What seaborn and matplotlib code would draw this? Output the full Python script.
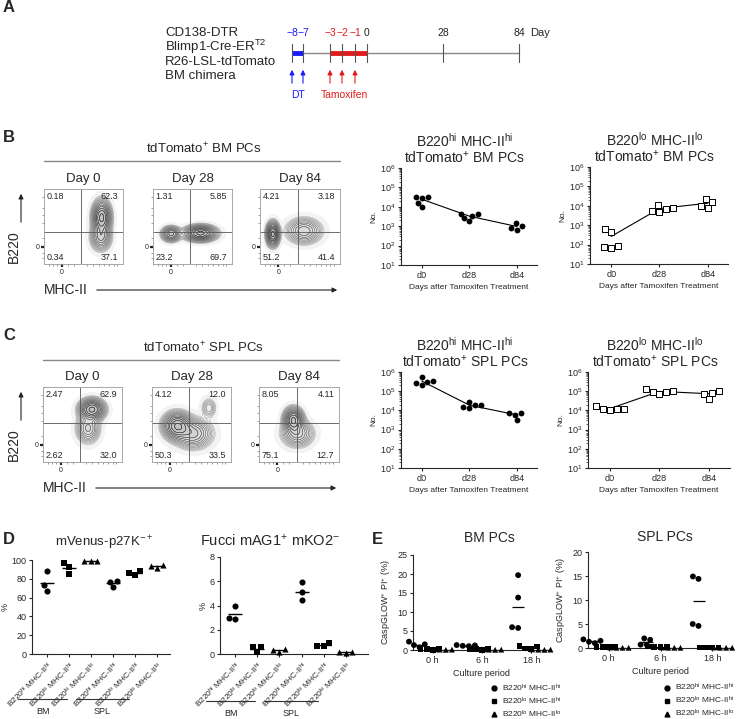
import numpy as np
import pandas as pd
import matplotlib
matplotlib.use("Agg")
import matplotlib.pyplot as plt
from matplotlib.lines import Line2D
import seaborn as sns

sns.set_style("ticks")
plt.rcParams["font.family"] = ["Liberation Sans", "DejaVu Sans"]
plt.rcParams["mathtext.fontset"] = "custom"
plt.rcParams["mathtext.rm"] = "Liberation Sans"
plt.rcParams["mathtext.it"] = "Liberation Sans:italic"
plt.rcParams["mathtext.bf"] = "Liberation Sans:bold"
plt.rcParams["axes.linewidth"] = 0.8
plt.rcParams["xtick.major.width"] = 0.8
plt.rcParams["ytick.major.width"] = 0.8
plt.rcParams["xtick.major.size"] = 2.5
plt.rcParams["ytick.major.size"] = 2.5
plt.rcParams["xtick.major.pad"] = 2
plt.rcParams["ytick.major.pad"] = 1.5


def sup(s):
    return r"$\mathregular{^{" + s + "}}$"


# ---------------- data ----------------
# panel A timeline
tl_days = ["\u22128", "\u22127", "\u22123", "\u22122", "\u22121", "0", "28", "84"]
tl_colors = ["#1a1aff", "#1a1aff", "#e31a1c", "#e31a1c", "#e31a1c", "#222222", "#222222", "#222222"]
genotype = ["CD138-DTR", "Blimp1-Cre-ER" + sup("T2"), "R26-LSL-tdTomato", "BM chimera"]

# panels B, C flow quadrants (UL, UR, LL, LR)
flow_days = ["Day 0", "Day 28", "Day 84"]
bm_quads = [["0.18", "62.3", "0.34", "37.1"],
            ["1.31", "5.85", "23.2", "69.7"],
            ["4.21", "3.18", "51.2", "41.4"]]
spl_quads = [["2.47", "62.9", "2.62", "32.0"],
             ["4.12", "12.0", "50.3", "33.5"],
             ["8.05", "4.11", "75.1", "12.7"]]
# population blobs: (x, y, sx, sy, weight), axis fractions
bm_blobs = [[(0.73, 0.62, 0.058, 0.11, 1.0), (0.72, 0.36, 0.065, 0.09, 0.45)],
            [(0.23, 0.40, 0.06, 0.05, 0.6), (0.60, 0.41, 0.10, 0.052, 1.0)],
            [(0.16, 0.40, 0.04, 0.08, 1.0), (0.55, 0.44, 0.11, 0.085, 0.4)]]
spl_blobs = [[(0.62, 0.70, 0.08, 0.07, 1.0), (0.57, 0.45, 0.075, 0.10, 0.35)],
             [(0.32, 0.48, 0.09, 0.09, 1.0), (0.52, 0.38, 0.12, 0.10, 0.5), (0.72, 0.72, 0.05, 0.07, 0.15)],
             [(0.43, 0.56, 0.06, 0.08, 1.0), (0.48, 0.38, 0.10, 0.09, 0.4)]]

# panels B, C: number of cells per mouse
days = ["d0", "d28", "d84"]
mouse_day = ["d0"] * 5 + ["d28"] * 5 + ["d84"] * 4
bm_hi_no = [3.3e4, 3.3e4, 1.6e4, 9.5e3, 3.0e4, 4.5e3, 1.8e3, 3.3e3, 4.3e3, 2.5e3, 1.0e3, 6.5e2, 1.4e3, 8.0e2]
bm_lo_no = [6.5e2, 6.5e1, 4.5e2, 8.5e1, 7.5e1, 5.0e3, 7.5e3, 1.1e4, 5.5e3, 7.0e3, 1.5e4, 8.0e3, 2.2e4, 9.5e3]
spl_hi_no = [3.5e5, 2.0e5, 5.5e5, 3.0e5, 2.7e5, 2.8e4, 1.3e4, 1.9e4, 1.5e4, 1.8e4, 7.5e3, 5.8e3, 3.0e3, 7.0e3]
spl_lo_no = [1.6e4, 1.0e4, 1.25e4, 1.15e4, 1.2e4, 1.3e5, 7.5e4, 1.0e5, 9.0e4, 9.5e4, 1.0e5, 7.0e4, 4.0e4, 8.5e4]

# panel D
d_groups = ["BM hh", "BM lh", "BM ll", "SPL hh", "SPL lh", "SPL ll"]
d_kind = ["hh", "lh", "ll", "hh", "lh", "ll"]
mvenus = [[88, 73, 67], [97, 93, 85], [98.5, 99, 98.5], [77, 71, 78], [88, 84, 86], [95, 92, 94]]
fucci = [[2.85, 3.95, 3.0], [0.6, 0.2, 0.55], [0.2, 0.45, 0.3], [5.9, 5.1, 4.45], [0.65, 0.9, 0.7], [0.12, 0.2, 0.15]]

# panel E
hours = ["0 h", "6 h", "18 h"]
cells = ["hh", "lh", "ll"]
bm_casp = {"hh": [[0.7, 1.3, 1.5, 2.2], [1.0, 1.1, 1.2, 1.3], [19.7, 13.8, 5.8, 6.0]],
           "lh": [[0.2, 0.3, 0.2, 0.1], [0.2, 0.1, 0.3, 0.2], [1.0, 0.3, 0.4, 0.9]],
           "ll": [[0.1, 0.05, 0.1, 0.15], [0.1, 0.05, 0.1, 0.1], [0.1, 0.05, 0.15, 0.1]]}
spl_casp = {"hh": [[1.8, 1.5, 1.3, 1.0], [1.7, 2.0, 0.7, 0.7], [14.4, 14.9, 4.6, 5.0]],
            "lh": [[0.2, 0.25, 0.2, 0.15], [0.2, 0.3, 0.15, 0.2], [0.1, 0.1, 0.1, 0.1]],
            "ll": [[0.05, 0.1, 0.05, 0.05], [0.05, 0.05, 0.1, 0.05], [0.05, 0.05, 0.1, 0.05]]}

cell_label = {"hh": "B220" + sup("hi") + " MHC-II" + sup("hi"),
              "lh": "B220" + sup("lo") + " MHC-II" + sup("hi"),
              "ll": "B220" + sup("lo") + " MHC-II" + sup("lo")}
cell_marker = {"hh": "o", "lh": "s", "ll": "^"}

# ---------------- figure ----------------
W, H = 741, 719
fig = plt.figure(figsize=(W / 100, H / 100), dpi=100)

ax0 = fig.add_axes([0, 0, 1, 1])
ax0.set_xlim(0, W)
ax0.set_ylim(H, 0)
ax0.axis("off")


def box(l, t, r, b):
    return fig.add_axes([l / W, 1 - b / H, (r - l) / W, (b - t) / H])


# panel letters
for lab, x, y in [("A", 3, 8), ("B", 3, 138), ("C", 3, 336), ("D", 3, 539), ("E", 372, 539)]:
    ax0.text(x, y, lab, fontsize=12, fontweight="bold", va="center", ha="left")

# ---------------- A ----------------
for i, s in enumerate(genotype):
    ax0.text(165, 33 + i * 14.3, s, fontsize=9.5, va="center", ha="left")
tl_x = [292, 303, 330, 342, 355, 367, 443, 519]
ax0.plot([292, 519], [53, 53], color="#888888", lw=1)
ax0.plot([292, 303], [53, 53], color="#1a1aff", lw=3.5, solid_capstyle="butt")
ax0.plot([330, 367], [53, 53], color="#e31a1c", lw=3.5, solid_capstyle="butt")
for x, s, c in zip(tl_x, tl_days, tl_colors):
    ax0.plot([x, x], [44, 62], color="#555555", lw=0.8)
    ax0.text(x, 33, s, fontsize=7.5, color=c, ha="center", va="center")
ax0.text(530, 33, "Day", fontsize=8, ha="left", va="center")
for x, c in zip(tl_x[:5], tl_colors[:5]):
    ax0.annotate("", xy=(x, 67), xytext=(x, 86),
                 arrowprops=dict(arrowstyle="-|>", color=c, lw=0.8, mutation_scale=7))
ax0.text(297.5, 95, "DT", fontsize=7.5, color="#1a1aff", ha="center", va="center")
ax0.text(344, 95, "Tamoxifen", fontsize=7.5, color="#e31a1c", ha="center", va="center")


# ---------------- B / C flow ----------------
def flow_panel(boxes, quads, blobs, hline_y, title, y_top, qy):
    g = np.linspace(0, 1, 240)
    X, Y = np.meshgrid(g, g)
    nlev = 14
    line_cols = plt.cm.Greys(np.linspace(0.42, 0.95, nlev))
    fill_cols = plt.cm.Greys(np.linspace(0.04, 0.6, nlev))
    for (l, t, r, b), q, bl, day in zip(boxes, quads, blobs, flow_days):
        ax = box(l, t, r, b)
        Z = np.zeros_like(X)
        for cx, cy, sx, sy, w in bl:
            Z += w * np.exp(-0.5 * (((X - cx) / sx) ** 2 + ((Y - cy) / sy) ** 2))
        top = Z.max()
        lev = top * np.geomspace(0.03, 0.9, nlev)
        ax.contourf(X, Y, Z, levels=[top * 0.006, top * 0.03], colors=["#f3f3f3"])
        ax.contourf(X, Y, Z, levels=list(lev) + [top * 1.01], colors=fill_cols, alpha=0.45)
        ax.contour(X, Y, Z, levels=lev, colors=line_cols, linewidths=0.4)
        ax.axvline(0.47, color="#555555", lw=0.6)
        ax.axhline(qy, color="#555555", lw=0.6)
        ax.set_xlim(0, 1)
        ax.set_ylim(0, 1)
        for sp in ax.spines.values():
            sp.set_color("#999999")
            sp.set_linewidth(0.6)
        ax.set_xticks([0.23])
        ax.set_xticklabels(["0"], fontsize=5)
        ax.set_yticks([0.23])
        ax.set_yticklabels(["0"], fontsize=5)
        ax.set_xticks([0.06, 0.12, 0.17, 0.3, 0.38, 0.55, 0.62, 0.7, 0.76, 0.82, 0.88, 0.93], minor=True)
        ax.set_yticks([0.08, 0.15, 0.35, 0.55, 0.65, 0.75, 0.9], minor=True)
        ax.tick_params(which="major", length=2, width=1.6, color="#222222", pad=1.5)
        ax.tick_params(which="minor", length=1.5, width=0.5, color="#777777")
        ax.set_title(day, fontsize=9.5, pad=5)
        ax.text(0.03, 0.96, q[0], fontsize=6.5, transform=ax.transAxes, ha="left", va="top")
        ax.text(0.94, 0.96, q[1], fontsize=6.5, transform=ax.transAxes, ha="right", va="top")
        ax.text(0.03, 0.03, q[2], fontsize=6.5, transform=ax.transAxes, ha="left", va="bottom")
        ax.text(0.94, 0.03, q[3], fontsize=6.5, transform=ax.transAxes, ha="right", va="bottom")
    l0, r0 = boxes[0][0], boxes[-1][2]
    ax0.text((l0 + r0) / 2 + 12, hline_y - 12, title, fontsize=9.5, ha="center", va="center")
    ax0.plot([l0, r0], [hline_y, hline_y], color="#888888", lw=1)
    # axis arrows
    ax0.text(14, y_top + 58, "B220", fontsize=10, rotation=90, ha="center", va="center")
    ax0.annotate("", xy=(21, y_top + 2), xytext=(21, y_top + 36),
                 arrowprops=dict(arrowstyle="-|>", color="#222222", lw=0.8, mutation_scale=7))
    ax0.text(l0, y_top + 101, "MHC-II", fontsize=10, ha="left", va="center")
    ax0.annotate("", xy=(r0, y_top + 101), xytext=(l0 + 50, y_top + 101),
                 arrowprops=dict(arrowstyle="-|>", color="#222222", lw=0.8, mutation_scale=7))


flow_panel([(44, 189, 123, 264), (153, 189, 232, 264), (260, 189, 340, 264)],
           bm_quads, bm_blobs, 161, "tdTomato" + sup("+") + " BM PCs", 189, 0.43)
flow_panel([(43, 387, 122, 462), (152, 387, 231, 462), (259, 387, 339, 462)],
           spl_quads, spl_blobs, 360, "tdTomato" + sup("+") + " SPL PCs", 387, 0.52)


# ---------------- B / C counts ----------------
def count_panel(ax, values, title, filled):
    df = pd.DataFrame({"day": mouse_day, "n": values})
    means = df.groupby("day", sort=False)["n"].mean().reset_index()
    if filled:
        sns.swarmplot(data=df, x="day", y="n", order=days, ax=ax, log_scale=True,
                      color="black", marker="o", size=4.2, linewidth=0)
    else:
        sns.swarmplot(data=df, x="day", y="n", order=days, ax=ax, log_scale=True,
                      color="white", marker="s", size=4.2, edgecolor="black", linewidth=0.7)
    sns.pointplot(data=means, x="day", y="n", order=days, ax=ax, log_scale=True,
                  color="black", markers="none", errorbar=None, linewidth=0.8)
    ax.set_ylim(10, 1e6)
    ax.set_xlim(-0.44, 2.42)
    ax.set_yticks([1e1, 1e2, 1e3, 1e4, 1e5, 1e6])
    ax.tick_params(axis="both", labelsize=6.5)
    ax.tick_params(which="minor", length=1.3, width=0.5)
    ax.set_xlabel("Days after Tamoxifen Treatment", fontsize=6, labelpad=3)
    ax.set_ylabel("No.", fontsize=6, labelpad=2)
    ax.set_title(title, fontsize=10, pad=4, linespacing=1.0, x=0.47)
    sns.despine(ax=ax)


count_panel(box(401, 168, 537, 265), bm_hi_no,
            "B220" + sup("hi") + " MHC-II" + sup("hi") + "\ntdTomato" + sup("+") + " BM PCs", True)
count_panel(box(590, 167, 728, 264), bm_lo_no,
            "B220" + sup("lo") + " MHC-II" + sup("lo") + "\ntdTomato" + sup("+") + " BM PCs", False)
count_panel(box(401, 372, 537, 468), spl_hi_no,
            "B220" + sup("hi") + " MHC-II" + sup("hi") + "\ntdTomato" + sup("+") + " SPL PCs", True)
count_panel(box(588, 372, 730, 468), spl_lo_no,
            "B220" + sup("lo") + " MHC-II" + sup("lo") + "\ntdTomato" + sup("+") + " SPL PCs", False)


# ---------------- D ----------------
def d_panel(ax, values, ylim, yticks, title, tsize, pad, tx, xmax):
    df = pd.DataFrame({"group": np.repeat(d_groups, 3),
                       "kind": np.repeat(d_kind, 3),
                       "pct": np.concatenate(values)})
    for k in cells:
        sns.swarmplot(data=df[df["kind"] == k], x="group", y="pct", order=d_groups, ax=ax,
                      color="black", marker=cell_marker[k], size=4.4, linewidth=0)
    sns.pointplot(data=df, x="group", y="pct", order=d_groups, ax=ax, color="black",
                  markers="_", linestyles="none", errorbar=None, markersize=10, markeredgewidth=1)
    for c in ax.collections:
        c.set_clip_on(False)
    ax.set_ylim(*ylim)
    ax.set_yticks(yticks)
    ax.set_xlim(-0.68, xmax)
    ax.set_xticks(range(6))
    ax.set_xticklabels([cell_label[k] for k in d_kind], rotation=45, ha="right",
                       rotation_mode="anchor", fontsize=6)
    ax.tick_params(axis="y", labelsize=6.5)
    ax.set_xlabel("")
    ax.set_ylabel("%", fontsize=6.5, labelpad=1)
    ax.set_title(title, fontsize=tsize, pad=pad, x=tx)
    sns.despine(ax=ax)
    tr = ax.get_xaxis_transform()
    for (x0, x1), name in [((-1.3, 0.92), "BM"), ((1.3, 3.75), "SPL")]:
        ax.plot([x0, x1], [-0.48, -0.48], color="#333333", lw=0.8, transform=tr, clip_on=False)
        ax.text((x0 + x1) / 2, -0.61, name, fontsize=6.5, ha="center", va="center", transform=tr)


d_panel(box(32, 560, 170, 654), mvenus, (0, 100), [0, 20, 40, 60, 80, 100],
        "mVenus-p27K" + sup("-+"), 9.5, 10, 0.52, 5.6)
d_panel(box(220, 557, 368, 654), fucci, (0, 8), [0, 2, 4, 6, 8],
        "Fucci mAG1" + sup("+") + " mKO2" + sup("-"), 10.5, 8, 0.34, 6.0)


# ---------------- E ----------------
def e_panel(ax, data, ylim, yticks, title, pad, tx, leg_xy):
    rows = []
    for k in cells:
        for h, vals in zip(hours, data[k]):
            for v in vals:
                rows.append((h, k, v))
    df = pd.DataFrame(rows, columns=["hour", "cell", "pct"])
    pal = {k: "black" for k in cells}
    for k in cells:
        sns.swarmplot(data=df[df["cell"] == k], x="hour", y="pct", hue="cell", order=hours,
                      hue_order=cells, dodge=True, palette=pal, marker=cell_marker[k],
                      size=4.2, linewidth=0, ax=ax, legend=False)
    sns.pointplot(data=df, x="hour", y="pct", hue="cell", order=hours, hue_order=cells,
                  dodge=0.533, palette=pal, markers="_", linestyles="none", errorbar=None,
                  markersize=9, markeredgewidth=0.9, ax=ax, legend=False)
    for c in ax.collections:
        c.set_clip_on(False)
    for ln in ax.lines:
        ln.set_clip_on(False)
    ax.set_ylim(*ylim)
    ax.set_yticks(yticks)
    ax.set_xlim(-0.4, 2.38)
    ax.tick_params(axis="both", labelsize=6.5)
    ax.set_xlabel("Culture period", fontsize=6.5, labelpad=3)
    ax.set_ylabel("CaspGLOW" + sup("+") + " PI" + sup("+") + " (%)", fontsize=6.5, labelpad=3)
    ax.set_title(title, fontsize=10, pad=pad, x=tx)
    sns.despine(ax=ax)
    handles = [Line2D([], [], marker=cell_marker[k], ls="none", color="black", markersize=3.5)
               for k in cells]
    ax.legend(handles, [cell_label[k] for k in cells], loc="upper left", bbox_to_anchor=leg_xy,
              frameon=False, fontsize=6, handlelength=0.6, handletextpad=0.7,
              labelspacing=0.2, borderpad=0, borderaxespad=0)


e_panel(box(413, 555, 550, 650), bm_casp, (0, 25), [0, 5, 10, 15, 20, 25], "BM PCs", 9, 0.56,
        (0.57, -0.34))
e_panel(box(588, 552, 732, 648), spl_casp, (0, 20), [0, 5, 10, 15, 20], "SPL PCs", 8, 0.535,
        (0.53, -0.355))

fig.savefig("out.png", dpi=100)
